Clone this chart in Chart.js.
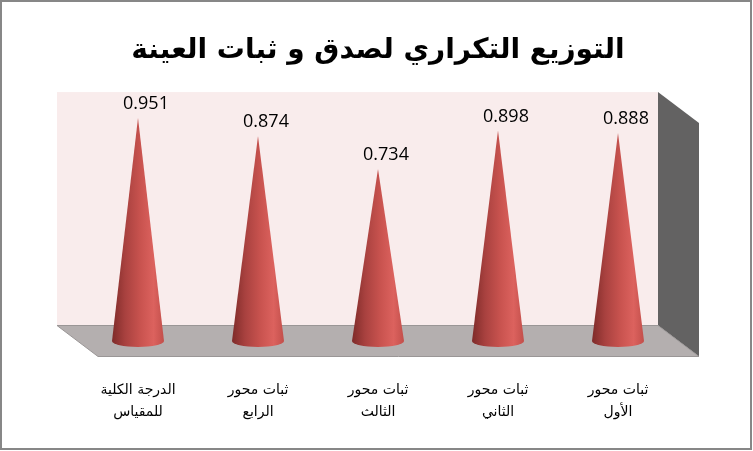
<!DOCTYPE html>
<html><head><meta charset="utf-8">
<script src="https://cdn.jsdelivr.net/npm/chart.js@4.4.1/dist/chart.umd.min.js"></script>
<style>html,body{margin:0;padding:0;background:#fff}#wrap{width:753px;height:451px}</style>
</head><body><div id="wrap"><canvas id="c" width="753" height="451"></canvas></div>
<script>
const titleText = 'التوزيع التكراري لصدق و ثبات العينة';
const categories = [
  ['ثبات محور', 'الأول'],
  ['ثبات محور', 'الثاني'],
  ['ثبات محور', 'الثالث'],
  ['ثبات محور', 'الرابع'],
  ['الدرجة الكلية', 'للمقياس']
];
const values = [0.888, 0.898, 0.734, 0.874, 0.951];
const valueLabels = ['0.888', '0.898', '0.734', '0.874', '0.951'];

const scenePlugin = {
  id: 'scene',
  beforeDatasetsDraw(chart) {
    const a = chart.chartArea, ctx = chart.ctx;
    const wl = a.left - 21, wr = a.right - 20, wt = a.top - 14.5, wb = a.bottom - 15.5;
    const dx = 41, dy = 31;
    ctx.save();
    ctx.fillStyle = '#f9ecec';
    ctx.fillRect(wl, wt, wr - wl, wb - wt);
    ctx.beginPath();
    ctx.moveTo(wr, wt); ctx.lineTo(wr + dx, wt + dy); ctx.lineTo(wr + dx, wb + dy); ctx.lineTo(wr, wb); ctx.closePath();
    ctx.fillStyle = '#636262'; ctx.fill();
    ctx.beginPath();
    ctx.moveTo(wl, wb); ctx.lineTo(wr, wb); ctx.lineTo(wr + dx, wb + dy); ctx.lineTo(wl + dx, wb + dy); ctx.closePath();
    ctx.fillStyle = '#b4afaf'; ctx.fill();
    ctx.strokeStyle = '#9a9696'; ctx.lineWidth = 1; ctx.stroke();
    ctx.restore();
  },
  afterDatasetsDraw(chart) {
    const ctx = chart.ctx;
    const meta = chart.getDatasetMeta(0);
    ctx.save();
    meta.data.forEach((el, i) => {
      const x = el.x, y = el.y, b = el.base;
      const rw = 26, rh = 6;
      const g = ctx.createLinearGradient(x - rw, 0, x + rw, 0);
      g.addColorStop(0, '#7e2b29');
      g.addColorStop(0.25, '#a8413f');
      g.addColorStop(0.55, '#c9534f');
      g.addColorStop(0.8, '#dc625e');
      g.addColorStop(1, '#c24f4b');
      ctx.beginPath();
      ctx.moveTo(x, y);
      ctx.lineTo(x - rw, b);
      ctx.ellipse(x, b, rw, rh, 0, Math.PI, 0, true);
      ctx.lineTo(x, y);
      ctx.closePath();
      ctx.fillStyle = g;
      ctx.fill();
      ctx.fillStyle = '#000';
      ctx.font = '18px "Open Sans"';
      ctx.textAlign = 'center';
      ctx.textBaseline = 'middle';
      ctx.fillText(valueLabels[i], x + 8, y - 14);
    });
    ctx.restore();
  },
  afterDraw(chart) {
    const ctx = chart.ctx;
    ctx.save();
    ctx.strokeStyle = '#878787';
    ctx.lineWidth = 2;
    ctx.strokeRect(1, 1, 750, 448);
    ctx.restore();
  }
};

new Chart(document.getElementById('c'), {
  type: 'bar',
  data: {
    labels: categories,
    datasets: [{ data: values, backgroundColor: 'rgba(0,0,0,0)', borderWidth: 0 }]
  },
  options: {
    responsive: false,
    animation: false,
    devicePixelRatio: 1,
    layout: { padding: { left: 78, right: 75, top: 0, bottom: 28 } },
    plugins: {
      legend: { display: false },
      tooltip: { enabled: false },
      title: {
        display: true,
        text: titleText,
        color: '#000',
        font: { family: '"DejaVu Sans"', size: 28, weight: 'bold', lineHeight: 1.2 },
        padding: { top: 34, bottom: 39 }
      }
    },
    scales: {
      x: {
        reverse: true,
        grid: { display: false, drawTicks: false },
        border: { display: false },
        afterFit(scale) { scale.height = 82; },
        ticks: {
          color: '#000',
          padding: 39,
          maxRotation: 0,
          autoSkip: false,
          font: { family: '"DejaVu Sans"', size: 14, lineHeight: 1.55 }
        }
      },
      y: { display: false, min: 0, max: 1 }
    }
  },
  plugins: [scenePlugin]
});
</script>
</body></html>
